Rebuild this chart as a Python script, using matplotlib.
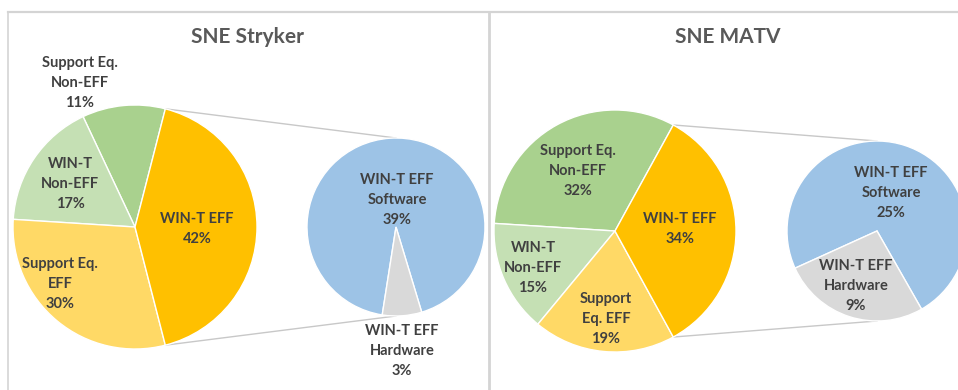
import math
import matplotlib
matplotlib.use("Agg")
import matplotlib.pyplot as plt

# ---- data -------------------------------------------------------------
panel_titles = ["SNE Stryker", "SNE MATV"]

main_labels = ["Support Eq.\nNon-EFF", "WIN-T\nNon-EFF", "Support Eq.\nEFF", "WIN-T EFF"]
main_labels_matv = ["Support Eq.\nNon-EFF", "WIN-T\nNon-EFF", "Support\nEq. EFF", "WIN-T EFF"]
stryker_main = [11, 17, 30, 42]
matv_main = [32, 15, 19, 34]

sub_labels = ["WIN-T EFF\nSoftware", "WIN-T EFF\nHardware"]
stryker_sub = [39, 3]
matv_sub = [25, 9]

# ---- style ------------------------------------------------------------
W, H = 958, 390
main_colors = ["#A9D18E", "#C5E0B4", "#FFD966", "#FFC000"]
sub_colors = ["#9DC3E6", "#D9D9D9"]
text_color = "#404040"
title_color = "#595959"
border_color = "#D4D4D4"
connector_color = "#C8C8C8"
FONT = ["Lato", "DejaVu Sans"]

# layout in pixel coordinates (origin bottom-left)
panels = [
    dict(title=panel_titles[0], title_xy=(248, H - 37),
         main=stryker_main, main_labels=main_labels,
         sub=stryker_sub,
         main_c=(135, H - 227), main_r=122,
         sub_c=(396, H - 227), sub_r=89, sub_start=-73.2,
         main_lbl=[(80, H - 83), (70, H - 184), (60, H - 284), (197, H - 229)],
         sub_lbl=[(397, H - 200), (402, H - 351)]),
    dict(title=panel_titles[1], title_xy=(728, H - 37),
         main=matv_main, main_labels=main_labels_matv,
         sub=matv_sub,
         main_c=(615, H - 231), main_r=121,
         sub_c=(877, H - 231), sub_r=90, sub_start=-60.3,
         main_lbl=[(578, H - 171), (533, H - 268), (606, H - 319), (680, H - 229)],
         sub_lbl=[(891, H - 193), (856, H - 286)]),
]

fig = plt.figure(figsize=(W / 100, H / 100), dpi=100)
fig.patch.set_facecolor("white")
ax = fig.add_axes([0, 0, 1, 1])

# chart frames
ax.plot([8, W], [H - 12, H - 12], color=border_color, lw=1.6, zorder=1)
ax.plot([8, 8], [0, H - 12], color=border_color, lw=1.2, zorder=1)
ax.plot([489, 489], [0, H - 12], color=border_color, lw=2.0, zorder=1)

wedge_style = dict(edgecolor="white", linewidth=1.0)
label_style = dict(ha="center", va="center", fontsize=10.5, color=text_color,
                   family=FONT, weight="bold", linespacing=1.55, zorder=5)

for p in panels:
    main_vals = p["main"]
    other = main_vals[-1]
    total = sum(main_vals)
    start = other / total * 360 / 2  # centre the split slice on the right side

    ax.pie(main_vals, colors=main_colors, startangle=start,
           counterclock=True, center=p["main_c"], radius=p["main_r"],
           wedgeprops=wedge_style, frame=True)
    ax.pie(p["sub"], colors=sub_colors, startangle=p["sub_start"],
           counterclock=True, center=p["sub_c"], radius=p["sub_r"],
           wedgeprops=wedge_style, frame=True)

    # connector lines from the split slice edges to the secondary pie
    cx, cy = p["main_c"]
    r = p["main_r"]
    sx, sy = p["sub_c"]
    sr = p["sub_r"]
    for sign in (1, -1):
        a = math.radians(sign * start)
        x0, y0 = cx + r * math.cos(a), cy + r * math.sin(a)
        ax.plot([x0, sx], [y0, sy + sign * sr], color=connector_color,
                lw=1.0, zorder=0)

    for lbl, v, xy in zip(p["main_labels"], main_vals, p["main_lbl"]):
        ax.text(xy[0], xy[1], f"{lbl}\n{v}%", **label_style)
    for lbl, v, xy in zip(sub_labels, p["sub"], p["sub_lbl"]):
        ax.text(xy[0], xy[1], f"{lbl}\n{v}%", **label_style)

    ax.text(p["title_xy"][0], p["title_xy"][1], p["title"], ha="center",
            va="center", fontsize=15, color=title_color, family=FONT,
            weight="bold")

ax.set_xlim(0, W)
ax.set_ylim(0, H)
ax.set_aspect("equal")
ax.axis("off")
fig.savefig("out.png", dpi=100, facecolor="white")
